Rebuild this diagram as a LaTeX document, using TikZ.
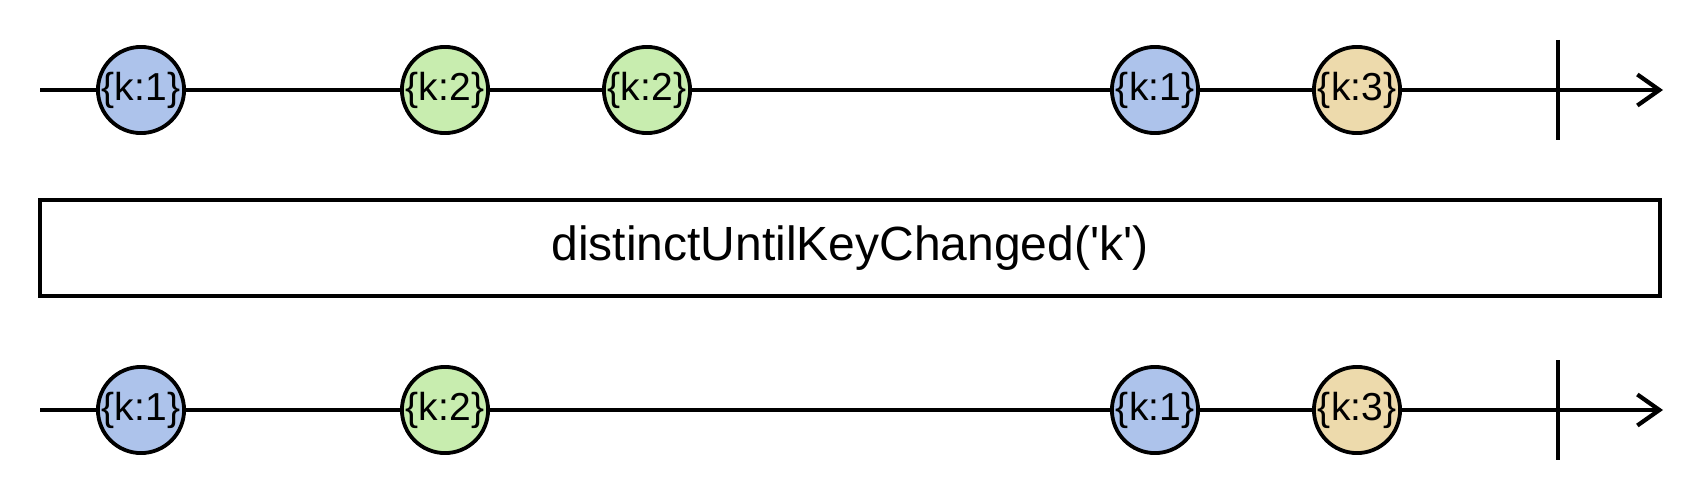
\documentclass[tikz,border=0pt]{standalone}
\usepackage{fontspec}
\setmainfont{Liberation Sans}
\usetikzlibrary{arrows.meta}
\definecolor{mblue}{RGB}{173,195,235}
\definecolor{mgreen}{RGB}{200,237,175}
\definecolor{mtan}{RGB}{237,218,172}
\tikzset{
  tl/.style={line width=4.2pt, -{Straight Barb[length=22pt,width=31pt,line width=4.2pt]}},
  endmark/.style={line width=4.2pt},
  marble/.style={circle, draw, line width=3.8pt, minimum size=75pt, inner sep=0pt,
    font=\fontsize{39}{39}\selectfont},
  opbox/.style={draw, line width=4.2pt, minimum width=1620pt, minimum height=96pt,
    inner sep=0pt, font=\fontsize{48}{48}\selectfont}
}
\begin{document}
\begin{tikzpicture}[x=1pt,y=-1pt]
\useasboundingbox (0,0) rectangle (1700,500);
% top timeline
\coordinate (s1) at (40,90);
\coordinate (e1) at (1663,90);
\coordinate (m1a) at (1558,40);
\coordinate (m1b) at (1558,140);
\draw[tl] (s1) -- (e1);
\draw[endmark] (m1a) -- (m1b);
\node[marble, fill=mblue]  (a1) at (141,90)  {\{k:1\}};
\node[marble, fill=mgreen] (a2) at (445,90)  {\{k:2\}};
\node[marble, fill=mgreen] (a3) at (647,90)  {\{k:2\}};
\node[marble, fill=mblue]  (a4) at (1155,90) {\{k:1\}};
\node[marble, fill=mtan]   (a5) at (1357,90) {\{k:3\}};
% operator box
\node[opbox] (op) at (850,248) {distinctUntilKeyChanged(\textquotesingle k\textquotesingle)};
% bottom timeline
\coordinate (s2) at (40,410);
\coordinate (e2) at (1663,410);
\coordinate (m2a) at (1558,360);
\coordinate (m2b) at (1558,460);
\draw[tl] (s2) -- (e2);
\draw[endmark] (m2a) -- (m2b);
\node[marble, fill=mblue]  (b1) at (141,410)  {\{k:1\}};
\node[marble, fill=mgreen] (b2) at (445,410)  {\{k:2\}};
\node[marble, fill=mblue]  (b4) at (1155,410) {\{k:1\}};
\node[marble, fill=mtan]   (b5) at (1357,410) {\{k:3\}};
\end{tikzpicture}
\end{document}
